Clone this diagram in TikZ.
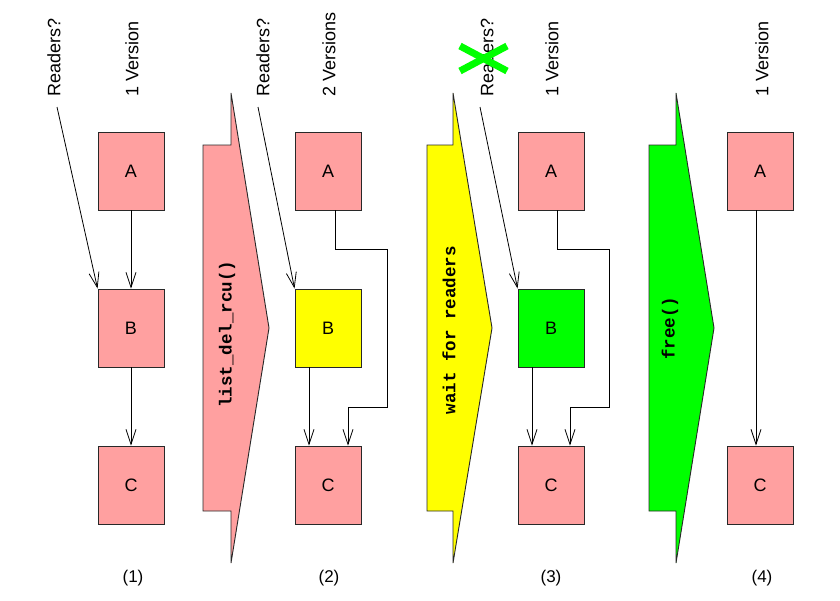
\documentclass[tikz,border=0pt]{standalone}
\usepackage{fontspec}
\setmainfont{Liberation Sans}
\setmonofont{Liberation Mono}
\usetikzlibrary{arrows.meta}
\definecolor{boxpink}{RGB}{255,160,160}
\definecolor{boxyellow}{RGB}{255,255,0}
\definecolor{boxgreen}{RGB}{0,255,0}
\definecolor{edge}{RGB}{40,40,40}
\begin{document}
\begin{tikzpicture}[x=1pt,y=-1pt,
  box/.style={draw=edge, line width=0.9pt, fill=boxpink, minimum width=66pt, minimum height=78pt, inner sep=0pt, font=\fontsize{18}{20}\selectfont},
  lbl/.style={rotate=90, anchor=west, inner sep=0pt, font=\fontsize{18}{20}\selectfont},
  num/.style={inner sep=0pt, font=\fontsize{17}{20}\selectfont},
  arr/.style={line width=0.8pt, -{Straight Barb[length=15pt,width=10pt,line width=0.8pt]}},
  bigarrow/.style={draw=edge, line width=0.9pt},
  code/.style={rotate=90, inner sep=0pt, font=\fontsize{17.5}{18}\ttfamily\bfseries}
]
\useasboundingbox[fill=white] (0,0) rectangle (840,600);

% ---------- column 1
\node[box] (A1) at (131,171) {A};
\node[box] (B1) at (131,328) {B};
\node[box] (C1) at (131,485) {C};
\node[lbl] (R1) at (54,97) {Readers?};
\node[lbl] (V1) at (132,97) {1 Version};
\coordinate (r1) at (57,107);
\draw[arr] (r1) -- (B1.north west);
\draw[arr] (A1) -- (B1);
\draw[arr] (B1) -- (C1);
\node[num] (N1) at (133,578) {(1)};

% ---------- big arrow 1
\draw[bigarrow, fill=boxpink] (203,145) -- (231,145) -- (231,93) -- (269,328) -- (231,563) -- (231,511) -- (203,511) -- cycle;
\node[code] (T1) at (227,334) {list\_del\_rcu()};

% ---------- column 2
\node[box] (A2) at (328,171) {A};
\node[box, fill=boxyellow] (B2) at (328,328) {B};
\node[box] (C2) at (328,485) {C};
\node[lbl] (R2) at (263,97) {Readers?};
\node[lbl] (V2) at (329,97) {2 Versions};
\coordinate (r2) at (258,107);
\draw[arr] (r2) -- (B2.north west);
\draw[arr] (B2.south -| 309,0) -- (C2.north -| 309,0);
\draw[arr] (A2.south -| 335,0) -- (335,249) -- (387,249) -- (387,407) -- (348,407) -- (C2.north -| 348,0);
\node[num] (N2) at (329,578) {(2)};

% ---------- big arrow 2
\draw[bigarrow, fill=boxyellow] (427,145) -- (453,145) -- (453,93) -- (492,328) -- (453,563) -- (453,511) -- (427,511) -- cycle;
\node[code] (T2) at (449,330) {wait for readers};

% ---------- column 3
\node[box] (A3) at (551,171) {A};
\node[box, fill=boxgreen] (B3) at (551,328) {B};
\node[box] (C3) at (551,485) {C};
\node[lbl] (R3) at (487,97) {Readers?};
\node[lbl] (V3) at (552,97) {1 Version};
\coordinate (r3) at (480,107);
\draw[arr] (r3) -- (B3.north west);
\draw[arr] (B3.south -| 532,0) -- (C3.north -| 532,0);
\draw[arr] (A3.south -| 557,0) -- (557,249) -- (609,249) -- (609,407) -- (570,407) -- (C3.north -| 570,0);
\node[num] (N3) at (551,578) {(3)};
% green cross
\coordinate (x1) at (460,46);
\coordinate (x2) at (507,71);
\coordinate (x3) at (460,71);
\coordinate (x4) at (507,46);
\draw[boxgreen, line width=7pt] (x1) -- (x2);
\draw[boxgreen, line width=7pt] (x3) -- (x4);

% ---------- big arrow 3
\draw[bigarrow, fill=boxgreen] (649,145) -- (676,145) -- (676,93) -- (714,328) -- (676,563) -- (676,511) -- (649,511) -- cycle;
\node[code] (T3) at (670,328) {free()};

% ---------- column 4
\node[box] (A4) at (760,171) {A};
\node[box] (C4) at (760,485) {C};
\node[lbl] (V4) at (762,97) {1 Version};
\draw[arr] (A4.south -| 756,0) -- (C4.north -| 756,0);
\node[num] (N4) at (762,578) {(4)};
\end{tikzpicture}
\end{document}
